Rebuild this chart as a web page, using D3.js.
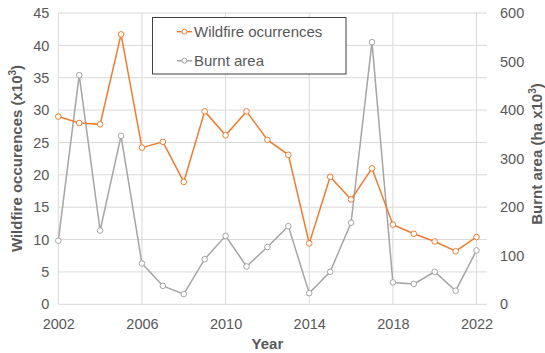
<!DOCTYPE html>
<html>
<head>
<meta charset="utf-8">
<script src="https://cdn.jsdelivr.net/npm/d3@7"></script>
<style>
  html, body { margin: 0; padding: 0; background: #fff; }
  text { font-family: "Liberation Sans", Arial, sans-serif; }
</style>
</head>
<body>
<svg id="chart" width="545" height="353"></svg>
<script>
// Annual wildfire statistics, 2002–2022
const years = d3.range(2002, 2023);
const occurrences = [29.0, 28.0, 27.8, 41.7, 24.2, 25.1, 18.9, 29.8, 26.1, 29.8, 25.4, 23.1, 9.4, 19.7, 16.2, 21.0, 12.3, 10.9, 9.7, 8.2, 10.4];
const burntArea = [131, 472, 152, 347, 84, 38, 21, 93, 141, 78, 118, 161, 23, 67, 168, 540, 45, 42, 67, 28, 111];
const xTicks = [2002, 2006, 2010, 2014, 2018, 2022];
const leftTicks = d3.range(0, 46, 5);
const rightTicks = d3.range(0, 601, 100);

const svg = d3.select("#chart");
const plotLeft = 58.3, plotRight = 487, plotTop = 13, plotBottom = 304.3;

const x = d3.scaleLinear().domain([2002, 2022.5]).range([plotLeft, plotRight]);
const yL = d3.scaleLinear().domain([0, 45]).range([plotBottom, plotTop]);
const yR = d3.scaleLinear().domain([0, 600]).range([plotBottom, plotTop]);

const gridColor = "#d9d9d9";
const textColor = "#595959";
const orange = "#ed7d31";
const grey = "#a5a5a5";
const font = "'Liberation Sans', Arial, sans-serif";

// Gridlines
svg.append("g").selectAll("line").data(leftTicks).join("line")
  .attr("x1", plotLeft).attr("x2", plotRight)
  .attr("y1", d => yL(d)).attr("y2", d => yL(d))
  .attr("stroke", gridColor).attr("stroke-width", 1);
svg.append("g").selectAll("line").data(xTicks).join("line")
  .attr("x1", d => x(d)).attr("x2", d => x(d))
  .attr("y1", plotTop).attr("y2", plotBottom)
  .attr("stroke", gridColor).attr("stroke-width", 1);

// Axes (labels only, no domain lines)
const axisL = svg.append("g").attr("transform", `translate(${plotLeft},0)`)
  .call(d3.axisLeft(yL).tickValues(leftTicks).tickSize(0).tickPadding(9));
const axisR = svg.append("g").attr("transform", `translate(${plotRight + 4},0)`)
  .call(d3.axisRight(yR).tickValues(rightTicks).tickSize(0).tickPadding(9));
const axisB = svg.append("g").attr("transform", `translate(0,${plotBottom})`)
  .call(d3.axisBottom(x).tickValues(xTicks).tickFormat(d3.format("d")).tickSize(0).tickPadding(14));
[axisL, axisR, axisB].forEach(g => {
  g.select(".domain").remove();
  g.selectAll("text").attr("fill", textColor).style("font-size", "14.5px").style("font-family", font);
});

// Vertical axis titles with a superscript exponent
function rotatedTitle(cx, cy, main) {
  const t = svg.append("text")
    .attr("transform", `translate(${cx},${cy}) rotate(-90)`)
    .attr("text-anchor", "middle").attr("font-weight", "bold").attr("font-size", 15)
    .attr("fill", textColor);
  t.append("tspan").text(main + "x10");
  t.append("tspan").attr("font-size", 10).attr("dy", -6).text("3");
  t.append("tspan").attr("dy", 6).text(")");
}
rotatedTitle(21.5, 158.5, "Wildfire occurences (");
rotatedTitle(542, 154, "Burnt area (ha ");

svg.append("text")
  .attr("x", x(2012)).attr("y", 348.5)
  .attr("text-anchor", "middle").attr("font-weight", "bold").attr("font-size", 15)
  .attr("fill", textColor).text("Year");

// Series
function drawSeries(values, yScale, color) {
  const pts = years.map((yr, i) => [x(yr), yScale(values[i])]);
  svg.append("path").attr("d", d3.line()(pts))
    .attr("fill", "none").attr("stroke", color).attr("stroke-width", 1.5);
  svg.append("g").selectAll("circle").data(pts).join("circle")
    .attr("cx", d => d[0]).attr("cy", d => d[1]).attr("r", 2.8)
    .attr("fill", "#fff").attr("stroke", color).attr("stroke-width", 1);
}
drawSeries(burntArea, yR, grey);
drawSeries(occurrences, yL, orange);

// Legend
const legend = svg.append("g");
legend.append("rect").attr("x", 152.5).attr("y", 17.5).attr("width", 193.5).attr("height", 56.5)
  .attr("fill", "#fff").attr("stroke", "#404040").attr("stroke-width", 1);
const items = [["Wildfire ocurrences", orange, 31.7], ["Burnt area", grey, 60.7]];
items.forEach(([label, color, yy]) => {
  legend.append("line").attr("x1", 177).attr("x2", 192).attr("y1", yy).attr("y2", yy)
    .attr("stroke", color).attr("stroke-width", 1.5);
  legend.append("circle").attr("cx", 184.5).attr("cy", yy).attr("r", 2.5)
    .attr("fill", "#fff").attr("stroke", color).attr("stroke-width", 1);
  legend.append("text").attr("x", 194).attr("y", yy + 5.3).attr("font-size", 15)
    .attr("fill", textColor).text(label);
});
</script>
</body>
</html>
